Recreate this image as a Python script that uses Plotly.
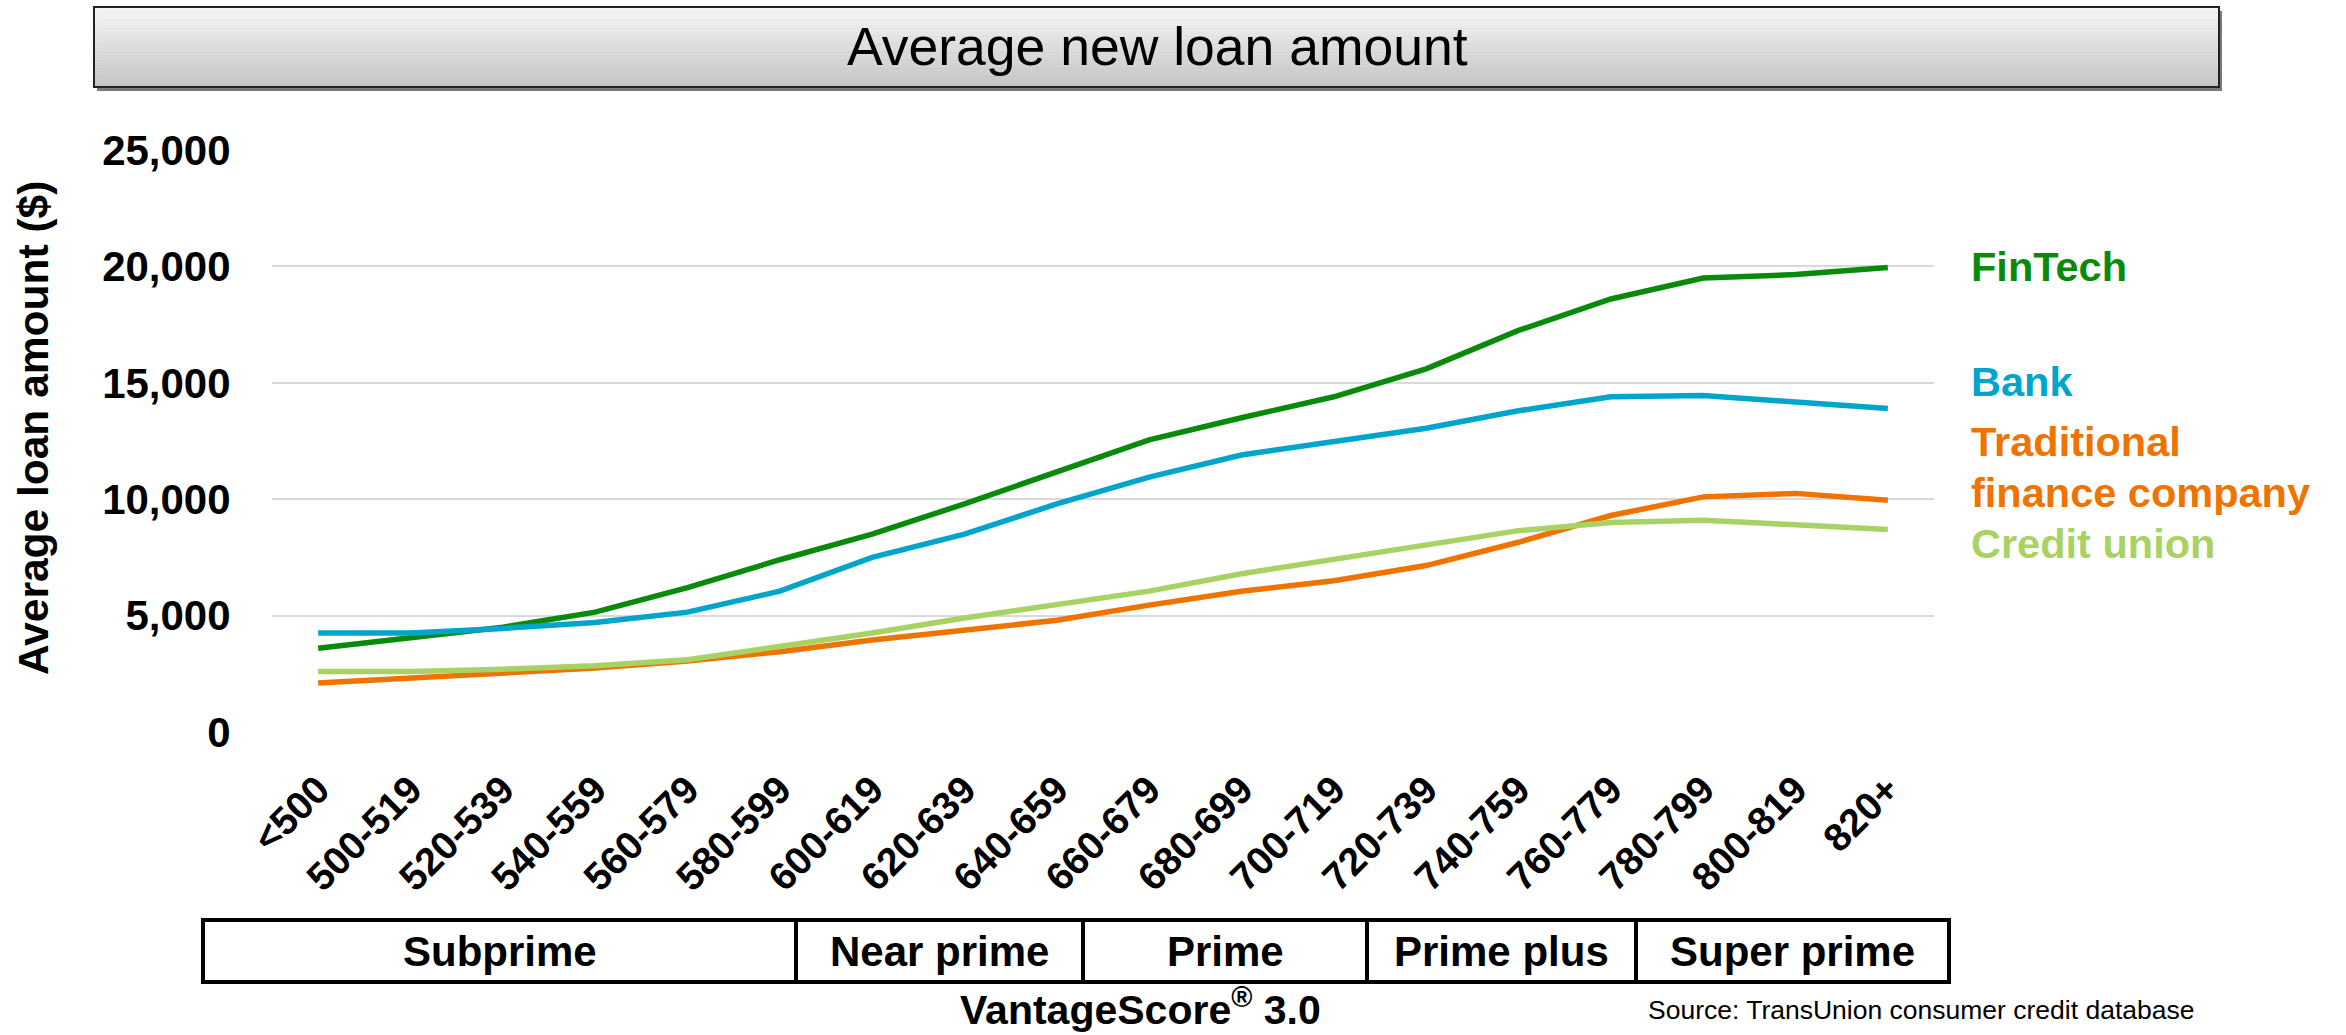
import plotly.graph_objects as go

# ---------------- data ----------------
categories = ["<500", "500-519", "520-539", "540-559", "560-579", "580-599",
              "600-619", "620-639", "640-659", "660-679", "680-699", "700-719",
              "720-739", "740-759", "760-779", "780-799", "800-819", "820+"]
fintech = [3600, 4050, 4500, 5150, 6200, 7400, 8500, 9800, 11200, 12550,
           13500, 14400, 15600, 17250, 18600, 19500, 19650, 19950]
bank = [4250, 4250, 4450, 4700, 5150, 6050, 7500, 8500, 9800, 10950,
        11900, 12450, 13050, 13800, 14400, 14450, 14150, 13900]
traditional = [2100, 2300, 2500, 2750, 3050, 3450, 3950, 4400, 4800, 5450,
               6050, 6500, 7150, 8150, 9300, 10100, 10250, 9950]
credit_union = [2600, 2600, 2700, 2850, 3100, 3650, 4250, 4900, 5500, 6050,
                6800, 7400, 8000, 8650, 9000, 9100, 8900, 8700]
series_names = ["FinTech", "Bank", "Traditional finance company", "Credit union"]
y_ticks = [0, 5000, 10000, 15000, 20000, 25000]
segment_labels = ["Subprime", "Near prime", "Prime", "Prime plus", "Super prime"]

# ---------------- styling ----------------
W_FIG, H_FIG = 2346, 1035
L, R, T, B = 272, 1934, 150, 732
PW, PH = R - L, B - T
FONT = "Liberation Sans, Arial, sans-serif"
colors = ["#0A8A0A", "#00A5CC", "#F07300", "#A9D265"]


def px(x):
    return (x - L) / PW


def py(y):
    return (B - y) / PH


fig = go.Figure()
for name, vals, col in zip(series_names, [fintech, bank, traditional, credit_union], colors):
    fig.add_trace(go.Scatter(x=categories, y=vals, mode="lines", name=name,
                             line=dict(color=col, width=5.5), showlegend=False))

shapes = []
# title box: shadow, gradient, border
x0, x1, y0, y1 = 94, 2219, 7, 87
shapes.append(dict(type="rect", xref="paper", yref="paper", x0=px(x0 + 3), x1=px(x1 + 3),
                   y0=py(y1 + 4), y1=py(y0 + 4), fillcolor="#7a7a7a", line=dict(width=0), layer="below"))
n = 30
top_c, bot_c = (246, 246, 246), (198, 198, 198)
for i in range(n):
    t = i / (n - 1)
    c = tuple(int(round(top_c[k] + (bot_c[k] - top_c[k]) * t)) for k in range(3))
    ya = y0 + (y1 - y0) * i / n
    yb = y0 + (y1 - y0) * (i + 1) / n
    shapes.append(dict(type="rect", xref="paper", yref="paper", x0=px(x0), x1=px(x1),
                       y0=py(yb + 0.5), y1=py(ya), fillcolor="rgb(%d,%d,%d)" % c,
                       line=dict(width=0), layer="below"))
shapes.append(dict(type="rect", xref="paper", yref="paper", x0=px(x0), x1=px(x1),
                   y0=py(y1), y1=py(y0), line=dict(color="#222222", width=2)))

# segment boxes
bounds = [203, 796, 1083, 1367, 1636, 1949]
by0, by1 = 920, 982
annotations = []
for i, lab in enumerate(segment_labels):
    shapes.append(dict(type="rect", xref="paper", yref="paper", x0=px(bounds[i]), x1=px(bounds[i + 1]),
                       y0=py(by1), y1=py(by0), line=dict(color="black", width=4)))
    annotations.append(dict(xref="paper", yref="paper", x=px((bounds[i] + bounds[i + 1]) / 2),
                            y=py((by0 + by1) / 2), text="<b>%s</b>" % lab, showarrow=False,
                            xanchor="center", yanchor="middle",
                            font=dict(family=FONT, size=42, color="black")))

annotations.append(dict(xref="paper", yref="paper", x=px(1157), y=py(47), text="Average new loan amount",
                        showarrow=False, xanchor="center", yanchor="middle",
                        font=dict(family=FONT, size=53.5, color="black")))
annotations.append(dict(xref="paper", yref="paper", x=px(33), y=py(428), text="<b>Average loan amount ($)</b>",
                        textangle=-90, showarrow=False, xanchor="center", yanchor="middle",
                        font=dict(family=FONT, size=42.5, color="black")))
annotations.append(dict(xref="paper", yref="paper", x=px(1140), y=py(1034),
                        text="<b>VantageScore<sup>®</sup> 3.0</b>", showarrow=False,
                        xanchor="center", yanchor="bottom", borderpad=0,
                        font=dict(family=FONT, size=41, color="black")))
annotations.append(dict(xref="paper", yref="paper", x=px(1646), y=py(1010),
                        text="Source: TransUnion consumer credit database", showarrow=False,
                        xanchor="left", yanchor="middle",
                        font=dict(family=FONT, size=26.5, color="black")))

side_labels = [("FinTech", 266, colors[0]), ("Bank", 381, colors[1]),
               ("Traditional", 441, colors[2]), ("finance company", 492, colors[2]),
               ("Credit union", 543, colors[3])]
for txt, yy, col in side_labels:
    annotations.append(dict(xref="paper", yref="paper", x=px(1969), y=py(yy), text="<b>%s</b>" % txt,
                            showarrow=False, xanchor="left", yanchor="middle",
                            font=dict(family=FONT, size=41.5, color=col)))

fig.update_layout(
    width=W_FIG, height=H_FIG, autosize=False,
    margin=dict(l=L, r=W_FIG - R, t=T, b=H_FIG - B, autoexpand=False),
    paper_bgcolor="white", plot_bgcolor="white",
    shapes=shapes, annotations=annotations,
    xaxis=dict(type="category", range=[-0.5, len(categories) - 0.5], showgrid=False,
               showline=False, zeroline=False, tickangle=-45, ticks="outside", ticklen=0,
               ticklabelstandoff=18, automargin=False,
               tickfont=dict(family=FONT, size=39, color="black", weight="bold")),
    yaxis=dict(range=[0, 25000], tickvals=y_ticks, tickformat=",", showgrid=True,
               gridcolor="#D9D9D9", gridwidth=2, zeroline=False, showline=False,
               ticks="outside", ticklen=0, ticklabelstandoff=32, automargin=False,
               tickfont=dict(family=FONT, size=42, color="black", weight="bold")),
)

fig.write_html("out.html")
